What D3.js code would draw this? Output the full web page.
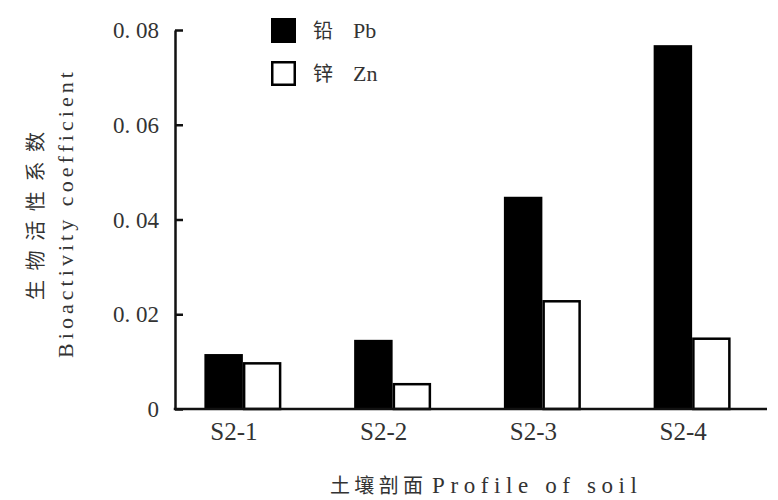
<!DOCTYPE html>
<html><head><meta charset="utf-8">
<script src="https://cdn.jsdelivr.net/npm/d3@7"></script>
<style>body{margin:0;background:#fff}</style>
</head><body><svg id="c" width="778" height="500"></svg>
<script>
const categories = ["S2-1", "S2-2", "S2-3", "S2-4"];
const seriesKeys = ["Pb", "Zn"];
const legendZh = ["铅", "锌"];
const legendEn = ["Pb", "Zn"];
const pbValues = [0.0116, 0.0146, 0.0448, 0.0768];
const znValues = [0.0099, 0.0055, 0.0230, 0.0151];
const yTickValues = [0, 0.02, 0.04, 0.06, 0.08];
const yTickLabels = ["0", "0. 02", "0. 04", "0. 06", "0. 08"];
const yTitleZh = "生物活性系数";
const yTitleEn = "Bioactivity coefficient";
const xTitleZh = "土壤剖面";
const xTitleEn = "Profile of soil";

const rows = categories.map((c, i) => ({cat: c, Pb: pbValues[i], Zn: znValues[i]}));

const svg = d3.select("#c");
const ink = "#111";
const serif = "'Liberation Serif', 'DejaVu Serif', serif";
const cjk = "'Noto Sans CJK SC', sans-serif";

const axisX = 175, x0 = 168, x1r = 767, yTop = 30, yBot = 409;

const x = d3.scaleBand().domain(categories).range([x0, x1r]).paddingInner(0.486).paddingOuter(0.243);
const xs = d3.scaleBand().domain(seriesKeys).range([0, x.bandwidth()]);
const y = d3.scaleLinear().domain([0, 0.08]).range([yBot, yTop]);

// bars
const g = svg.append("g");
const groups = g.selectAll("g.grp").data(rows).join("g").attr("class", "grp")
  .attr("transform", d => `translate(${x(d.cat)},0)`);
groups.append("rect")
  .attr("x", xs("Pb")).attr("width", xs.bandwidth())
  .attr("y", d => y(d.Pb)).attr("height", d => y(0) - y(d.Pb))
  .attr("fill", "#000");
groups.append("rect")
  .attr("x", xs("Zn") + 1.25).attr("width", xs.bandwidth() - 2.5)
  .attr("y", d => y(d.Zn) + 1.25).attr("height", d => y(0) - y(d.Zn) - 1.25)
  .attr("fill", "#fff").attr("stroke", "#000").attr("stroke-width", 2.5);

// y axis
const yAxis = d3.axisLeft(y).tickValues(yTickValues)
  .tickFormat((d, i) => yTickLabels[i]).tickSizeInner(-8).tickSizeOuter(0).tickPadding(16);
const ya = svg.append("g").attr("transform", `translate(${axisX},0)`).call(yAxis);
ya.select(".domain").attr("stroke", ink).attr("stroke-width", 2.5);
ya.selectAll(".tick line").attr("stroke", ink).attr("stroke-width", 2.5);
ya.selectAll(".tick text").attr("font-family", serif).attr("font-size", 23).attr("fill", "#333").attr("dy", "0.33em");

// x axis
const xAxis = d3.axisBottom(x).tickSize(0).tickPadding(0).tickFormat(d => d);
const xa = svg.append("g").attr("transform", `translate(0,${yBot})`).call(xAxis);
xa.select(".domain").remove();
xa.selectAll(".tick text").attr("font-family", serif).attr("font-size", 25).attr("fill", "#333")
  .attr("dx", -9).attr("y", 31).attr("dy", 0);
svg.append("line").attr("x1", axisX - 1.25).attr("x2", x1r).attr("y1", yBot).attr("y2", yBot)
  .attr("stroke", ink).attr("stroke-width", 2.5);

// y title
svg.append("text").attr("transform", "translate(43,300) rotate(-90)")
  .attr("font-family", cjk).attr("font-size", 20).attr("fill", "#333")
  .attr("textLength", 168).attr("lengthAdjust", "spacing").text(yTitleZh);
svg.append("text").attr("transform", "translate(73,358) rotate(-90)")
  .attr("font-family", serif).attr("font-size", 22).attr("fill", "#333")
  .attr("textLength", 286).attr("lengthAdjust", "spacing").text(yTitleEn);

// x title
svg.append("text").attr("x", 330).attr("y", 493)
  .attr("font-family", cjk).attr("font-size", 20).attr("fill", "#333")
  .attr("textLength", 93).attr("lengthAdjust", "spacing").text(xTitleZh);
svg.append("text").attr("x", 432).attr("y", 493)
  .attr("font-family", serif).attr("font-size", 23).attr("fill", "#333")
  .attr("textLength", 205).attr("lengthAdjust", "spacing").text(xTitleEn);

// legend
const lg = svg.append("g").attr("transform", "translate(271,18)");
const li = lg.selectAll("g").data(seriesKeys).join("g").attr("transform", (d, i) => `translate(0,${i * 43})`);
li.append("rect").attr("x", d => d === "Zn" ? 1.25 : 0).attr("y", d => d === "Zn" ? 1.25 : 0)
  .attr("width", d => d === "Zn" ? 22.5 : 25).attr("height", d => d === "Zn" ? 22.5 : 25)
  .attr("fill", d => d === "Pb" ? "#000" : "#fff").attr("stroke", "#000")
  .attr("stroke-width", d => d === "Zn" ? 2.5 : 0);
li.append("text").attr("x", 42).attr("y", 20).attr("font-family", cjk).attr("font-size", 20)
  .attr("fill", "#333").text((d, i) => legendZh[i]);
li.append("text").attr("x", 82).attr("y", 20).attr("font-family", serif).attr("font-size", 22)
  .attr("fill", "#333").text((d, i) => legendEn[i]);
</script></body></html>
